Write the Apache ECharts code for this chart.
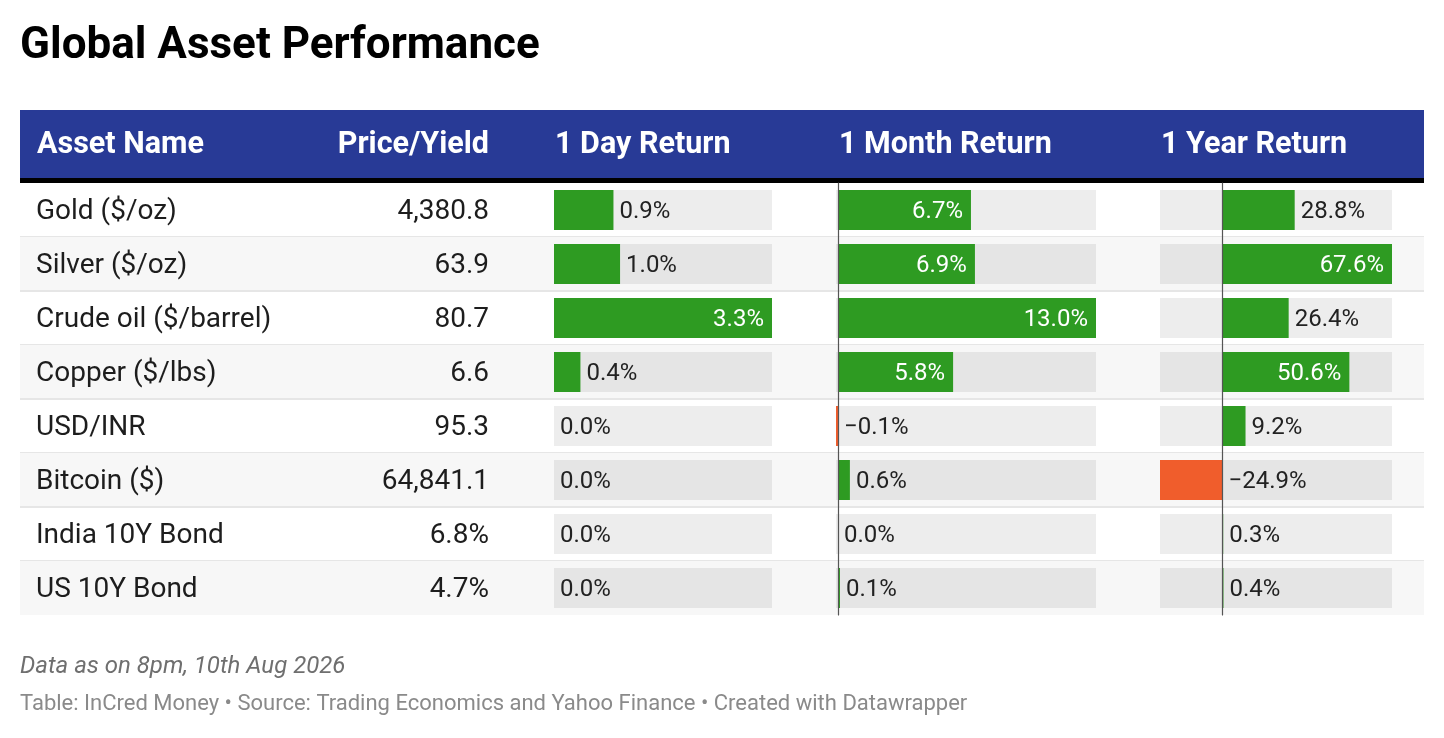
<!DOCTYPE html>
<html>
<head>
<meta charset="utf-8">
<style>
  html, body { margin: 0; padding: 0; background: #fff; }
  #chart { width: 1444px; height: 738px; }
</style>
<script src="https://cdn.jsdelivr.net/npm/echarts@6/dist/echarts.min.js"></script>
</head>
<body>
<div id="chart"></div>
<script>
// table data
const assetNames = ['Gold ($/oz)', 'Silver ($/oz)', 'Crude oil ($/barrel)', 'Copper ($/lbs)', 'USD/INR', 'Bitcoin ($)', 'India 10Y Bond', 'US 10Y Bond'];
const priceYield = ['4,380.8', '63.9', '80.7', '6.6', '95.3', '64,841.1', '6.8%', '4.7%'];
const dayReturn = [0.9, 1.0, 3.3, 0.4, 0.0, 0.0, 0.0, 0.0];
const monthReturn = [6.7, 6.9, 13.0, 5.8, -0.1, 0.6, 0.0, 0.1];
const yearReturn = [28.8, 67.6, 26.4, 50.6, 9.2, -24.9, 0.3, 0.4];
const headers = ['Asset Name', 'Price/Yield', '1 Day Return', '1 Month Return', '1 Year Return'];

const FONT = 'Roboto';
const GREEN = '#2e9b22';
const ORANGE = '#f05d2c';
const ROW_H = 54;
const TABLE_TOP = 183;
const nRows = assetNames.length;

// bar columns: pixel extent of each column
const cols = [
    { data: dayReturn, left: 554, width: 218, zeroLine: false },
    { data: monthReturn, left: 836, width: 260, zeroLine: true },
    { data: yearReturn, left: 1160, width: 232, zeroLine: true }
];

let myChart = echarts.init(document.getElementById('chart'));

function fmt(v) {
    return (v < 0 ? '\u2212' : '') + Math.abs(v).toFixed(1) + '%';
}

let graphics = [];
// title
graphics.push({
    type: 'text', x: 20, y: 47,
    style: { text: 'Global Asset Performance', font: 'bold 44px ' + FONT, fill: '#000', verticalAlign: 'middle' }
});
// header band
graphics.push({ type: 'rect', shape: { x: 20, y: 110, width: 1404, height: 68 }, style: { fill: '#283a96' } });
graphics.push({ type: 'rect', shape: { x: 20, y: 178, width: 1404, height: 5 }, style: { fill: '#000' } });
const headerX = [37, 489, 555, 839, 1161];
const headerAlign = ['left', 'right', 'left', 'left', 'left'];
headers.forEach(function (h, i) {
    graphics.push({
        type: 'text', x: headerX[i], y: 145,
        style: { text: h, font: 'bold 30.5px ' + FONT, fill: '#fff', align: headerAlign[i], verticalAlign: 'middle' }
    });
});
// rows
for (let i = 0; i < nRows; i++) {
    let y = TABLE_TOP + i * ROW_H;
    if (i % 2 === 1) {
        graphics.push({ type: 'rect', z: -1, shape: { x: 20, y: y, width: 1404, height: ROW_H }, style: { fill: '#f7f7f7' } });
    }
    if (i < nRows - 1) {
        graphics.push({ type: 'rect', z: -1, shape: { x: 20, y: y + ROW_H - 1, width: 1404, height: 2 }, style: { fill: '#e6e6e6' } });
    }
    graphics.push({
        type: 'text', x: 36, y: y + ROW_H / 2 + 2,
        style: { text: assetNames[i], font: '28px ' + FONT, fill: '#1d1d1d', verticalAlign: 'middle' }
    });
    graphics.push({
        type: 'text', x: 489, y: y + ROW_H / 2 + 2,
        style: { text: priceYield[i], font: '28px ' + FONT, fill: '#1d1d1d', align: 'right', verticalAlign: 'middle' }
    });
}
// footer
graphics.push({
    type: 'text', x: 20, y: 667,
    style: { text: 'Data as on 8pm, 10th Aug 2026', font: 'italic 24px ' + FONT, fill: '#6f6f6f', verticalAlign: 'middle' }
});
graphics.push({
    type: 'text', x: 20, y: 704,
    style: { text: 'Table: InCred Money \u2022 Source: Trading Economics and Yahoo Finance \u2022 Created with Datawrapper', font: '22px ' + FONT, fill: '#8a8a8a', verticalAlign: 'middle' }
});

let grids = [], xAxes = [], yAxes = [], series = [];
cols.forEach(function (c, k) {
    let mn = Math.min(0, Math.min.apply(null, c.data));
    let mx = Math.max(0, Math.max.apply(null, c.data));
    grids.push({ left: c.left, top: TABLE_TOP, width: c.width, height: nRows * ROW_H });
    xAxes.push({ type: 'value', gridIndex: k, min: mn, max: mx, show: false });
    yAxes.push({
        type: 'category', gridIndex: k, inverse: true, data: assetNames,
        axisLabel: { show: false }, axisTick: { show: false }, splitLine: { show: false },
        axisLine: { show: c.zeroLine, onZero: true, lineStyle: { color: '#555', width: 1.2 } },
        z: 5
    });
    series.push({
        type: 'bar', xAxisIndex: k, yAxisIndex: k, barWidth: 40,
        showBackground: true,
        backgroundStyle: { color: 'rgba(0,0,0,0.07)' },
        data: c.data.map(function (v) {
            let inside = Math.abs(v) / (mx - mn) * c.width > 100;
            return {
                value: v,
                itemStyle: { color: v < 0 ? ORANGE : GREEN },
                label: {
                    show: true,
                    position: inside ? 'insideRight' : 'right',
                    distance: inside ? 8 : 6,
                    offset: [0, 2],
                    color: inside ? '#fff' : '#222',
                    fontFamily: FONT, fontSize: 24,
                    formatter: function (p) { return fmt(p.value); }
                }
            };
        })
    });
});

let option = {
    backgroundColor: '#fff',
    animation: false,
    grid: grids,
    xAxis: xAxes,
    yAxis: yAxes,
    series: series,
    graphic: graphics
};
myChart.setOption(option);
window.onresize = function () {
    myChart.resize();
};
</script>
</body>
</html>
